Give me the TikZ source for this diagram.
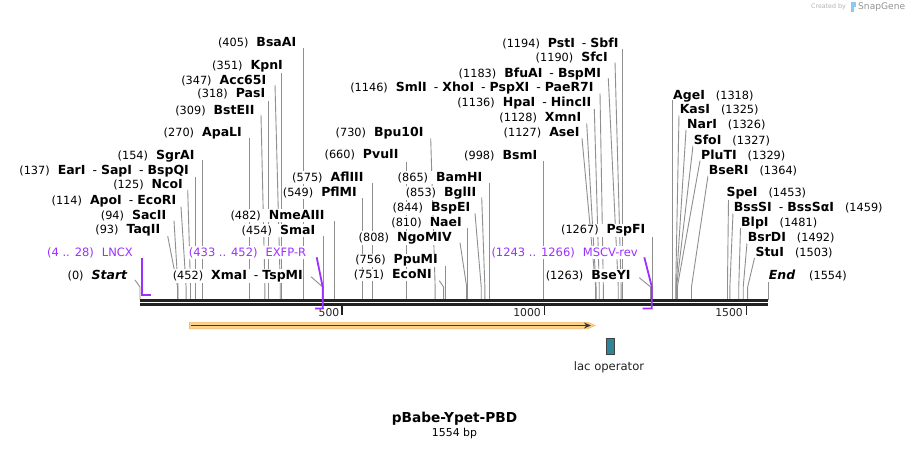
\documentclass[tikz,border=0pt]{standalone}
\usepackage{fontspec}
\setmainfont{DejaVu Sans}
\usetikzlibrary{arrows.meta}
\pgfdeclarelayer{bg}
\pgfdeclarelayer{paper}
\pgfsetlayers{paper,bg,main}
\definecolor{prim}{HTML}{9B30FF}
\definecolor{sitegray}{HTML}{8F8F8F}
\definecolor{seqdark}{HTML}{222222}
\definecolor{orfband}{HTML}{FAD28C}
\definecolor{orfedge}{HTML}{F3BC63}
\definecolor{lacfill}{HTML}{2F8498}
\definecolor{logoblue}{HTML}{8CC8F0}
\newcommand\numf{\fontsize{11.3}{13}\selectfont\mdseries\upshape}
\newcommand\namef{\fontsize{12.5}{14}\selectfont\bfseries}
\newcommand\hy{\hspace{7pt}{\mdseries-}\hspace{4pt}}
\newcommand\labL[2]{{\numf #1}\hspace{8pt}{\namef #2}}
\newcommand\labR[2]{{\namef #1}\hspace{11pt}{\numf #2}}
\def\vmark{v}
% #1 anchor, #2 id, #3 label x, #4 label centre y, #5 text, #6 start x (v = vertical), #7 start y, #8 bp
\newcommand\site[8]{%
  \node[lab, anchor=#1] (#2) at (#3,#4+4.5) {#5};
  \pgfmathsetmacro\sitex{140+#8*0.4043}%
  \def\startx{#6}\ifx\startx\vmark\let\startx\sitex\fi
  \coordinate (#2a) at (\startx,#7);
  \coordinate (#2b) at (\sitex,287);
  \coordinate (#2s) at (\sitex,299.5);
  \begin{pgfonlayer}{bg}\draw[siteline] (#2a) -- (#2b) -- (#2s);\end{pgfonlayer}%
}
\tikzset{
  lab/.style={fill=white, inner xsep=0.5pt, inner ysep=1pt, outer sep=0pt},
  siteline/.style={draw=sitegray, line width=0.9pt},
  primline/.style={draw=prim, line width=1.8pt},
  primlab/.style={lab, text=prim, font=\fontsize{11.5}{13}\selectfont},
  seqline/.style={draw=seqdark, line width=2.7pt},
  tickmark/.style={draw=seqdark, line width=1.6pt},
  ticklab/.style={font=\fontsize{10.8}{12}\selectfont, inner sep=0pt, text=seqdark, anchor=east},
}
\begin{document}
\begin{tikzpicture}[x=1pt,y=-1pt]
\useasboundingbox (0,0) rectangle (909,449);
\begin{pgfonlayer}{paper}\fill[white] (0,0) rectangle (909,449);\end{pgfonlayer}

% sequence
\coordinate (seqA1) at (140,300.6); \coordinate (seqB1) at (768.3,300.6);
\coordinate (seqA2) at (140,304.7); \coordinate (seqB2) at (768.3,304.7);
\draw[seqline] (seqA1) -- (seqB1);
\draw[seqline] (seqA2) -- (seqB2);

% ticks
\coordinate (k500a) at (342.2,306); \coordinate (k500b) at (342.2,314.5);
\coordinate (k1000a) at (544.3,306); \coordinate (k1000b) at (544.3,314.5);
\coordinate (k1500a) at (746.5,306); \coordinate (k1500b) at (746.5,314.5);
\draw[tickmark] (k500a) -- (k500b);
\draw[tickmark] (k1000a) -- (k1000b);
\draw[tickmark] (k1500a) -- (k1500b);
\node[ticklab] (t500) at (339.5,313) {500};
\node[ticklab] (t1000) at (541,313) {1000};
\node[ticklab] (t1500) at (743,313) {1500};

% left-side enzyme labels
\site{base east}{sStart}{127.7}{275}{\labL{(0)}{\itshape Start}}{135}{280}{0}
\site{base east}{sTaqII}{160.7}{229.3}{\labL{(93)}{TaqII}}{167.7}{236}{93}
\site{base east}{sSacII}{166.7}{214.7}{\labL{(94)}{SacII}}{174}{220.7}{94}
\site{base east}{sApoI}{176.7}{200}{\labL{(114)}{ApoI\hy EcoRI}}{181}{206.7}{114}
\site{base east}{sNcoI}{183.3}{184.3}{\labL{(125)}{NcoI}}{187.7}{190}{125}
\site{base east}{sEarI}{189.3}{170}{\labL{(137)}{EarI\hy SapI\hy BspQI}}{v}{176.7}{137}
\site{base east}{sSgrAI}{195}{155}{\labL{(154)}{SgrAI}}{v}{160}{154}
\site{base east}{sApaLI}{242.3}{131.7}{\labL{(270)}{ApaLI}}{v}{137.7}{270}
\site{base east}{sBstEII}{255}{110}{\labL{(309)}{BstEII}}{261}{115}{309}
\site{base east}{sPasI}{265.7}{93.3}{\labL{(318)}{PasI}}{v}{100.7}{318}
\site{base east}{sAcc}{266.7}{80}{\labL{(347)}{Acc65I}}{275}{85}{347}
\site{base east}{sKpnI}{283.3}{65}{\labL{(351)}{KpnI}}{v}{71.7}{351}
\site{base east}{sBsaAI}{296.7}{42.3}{\labL{(405)}{BsaAI}}{v}{48.3}{405}
\site{base east}{sXmaI}{303.3}{275}{\labL{(452)}{XmaI\hy TspMI}}{311}{276.7}{452}
\site{base east}{sSmaI}{315.7}{230}{\labL{(454)}{SmaI}}{v}{236}{454}
\site{base east}{sNme}{325}{215}{\labL{(482)}{NmeAIII}}{v}{221}{482}
\site{base east}{sPflMI}{357.3}{191.7}{\labL{(549)}{PflMI}}{v}{198.3}{549}
\site{base east}{sAflIII}{364}{176.7}{\labL{(575)}{AflIII}}{v}{182.7}{575}
\site{base east}{sPvuII}{399}{154.3}{\labL{(660)}{PvuII}}{v}{161.7}{660}
\site{base east}{sBpu}{424}{132.3}{\labL{(730)}{Bpu10I}}{430.7}{138.3}{730}
\site{base east}{sEcoNI}{432.3}{274.3}{\labL{(751)}{EcoNI}}{439.3}{280.7}{751}
\site{base east}{sPpuMI}{438.3}{259.3}{\labL{(756)}{PpuMI}}{v}{265.7}{756}
\site{base east}{sNgo}{452.3}{236.7}{\labL{(808)}{NgoMIV}}{460}{242.7}{808}
\site{base east}{sNaeI}{462.3}{221.7}{\labL{(810)}{NaeI}}{v}{228.3}{810}
\site{base east}{sBspEI}{470.7}{207.3}{\labL{(844)}{BspEI}}{475}{213.3}{844}
\site{base east}{sBglII}{476.7}{191.7}{\labL{(853)}{BglII}}{481.7}{197.3}{853}
\site{base east}{sBamHI}{482.7}{176.7}{\labL{(865)}{BamHI}}{v}{182.7}{865}
\site{base east}{sBsmI}{537.7}{155}{\labL{(998)}{BsmI}}{v}{161}{998}
\site{base east}{sAseI}{580}{131.7}{\labL{(1127)}{AseI}}{582}{138.3}{1127}
\site{base east}{sXmnI}{581.7}{117.3}{\labL{(1128)}{XmnI}}{586.7}{123.3}{1128}
\site{base east}{sHpaI}{591.7}{102.3}{\labL{(1136)}{HpaI\hy HincII}}{594.3}{109}{1136}
\site{base east}{sSmlI}{594}{87}{\labL{(1146)}{SmlI\hy XhoI\hy PspXI\hy PaeR7I}}{600}{93.3}{1146}
\site{base east}{sBfuAI}{601.5}{72.7}{\labL{(1183)}{BfuAI\hy BspMI}}{608.3}{78.3}{1183}
\site{base east}{sSfcI}{608.3}{56.7}{\labL{(1190)}{SfcI}}{615}{62.3}{1190}
\site{base east}{sPstI}{619}{43.3}{\labL{(1194)}{PstI\hy SbfI}}{v}{49.3}{1194}
\site{base east}{sBseYI}{631}{275}{\labL{(1263)}{BseYI}}{639.3}{277.7}{1263}
\site{base east}{sPspFI}{645.7}{229.3}{\labL{(1267)}{PspFI}}{v}{236.7}{1267}

% right-side enzyme labels
\site{base west}{sAgeI}{672.7}{95}{\labR{AgeI}{(1318)}}{v}{100}{1318}
\site{base west}{sKasI}{679.3}{109.3}{\labR{KasI}{(1325)}}{679}{115}{1325}
\site{base west}{sNarI}{686.7}{124.3}{\labR{NarI}{(1326)}}{686}{130}{1326}
\site{base west}{sSfoI}{693.3}{140}{\labR{SfoI}{(1327)}}{693}{145.7}{1327}
\site{base west}{sPluTI}{700.7}{155}{\labR{PluTI}{(1329)}}{700}{160.7}{1329}
\site{base west}{sBseRI}{708.3}{170}{\labR{BseRI}{(1364)}}{708}{175.7}{1364}
\site{base west}{sSpeI}{726}{192.3}{\labR{SpeI}{(1453)}}{728.5}{198}{1453}
\site{base west}{sBssSI}{733.3}{207.3}{\labR{BssSI\hy BssSαI}{(1459)}}{733}{213}{1459}
\site{base west}{sBlpI}{740.7}{222.3}{\labR{BlpI}{(1481)}}{740.5}{228}{1481}
\site{base west}{sBsrDI}{747.3}{237.3}{\labR{BsrDI}{(1492)}}{747}{243}{1492}
\site{base west}{sStuI}{755}{252.3}{\labR{StuI}{(1503)}}{754.5}{258}{1503}
\site{base west}{sEnd}{768.3}{275}{{\namef\itshape End}\hspace{14pt}{\numf (1554)}}{v}{282}{1554}

% primers
\node[primlab, anchor=base east] (pLNCX) at (133.3,256.2) {(4 .. 28)\hspace{8pt}LNCX};
\node[primlab, anchor=base east] (pEXFP) at (306.7,256.2) {(433 .. 452)\hspace{8pt}EXFP-R};
\node[primlab, anchor=base east] (pMSCV) at (638.3,256.2) {(1243 .. 1266)\hspace{8pt}MSCV-rev};
\coordinate (pLNCXa) at (141.6,258); \coordinate (pLNCXb) at (141.6,295.3); \coordinate (pLNCXc) at (151.3,295.3);
\coordinate (pEXFPa) at (316.7,257.3); \coordinate (pEXFPb) at (322.7,287); \coordinate (pEXFPc) at (322.7,308.5); \coordinate (pEXFPd) at (315.1,308.5);
\coordinate (pMSCVa) at (644.3,257.3); \coordinate (pMSCVb) at (651.8,286.7); \coordinate (pMSCVc) at (651.8,308.5); \coordinate (pMSCVd) at (642.5,308.5);
\draw[primline] (pLNCXa) -- (pLNCXb) -- (pLNCXc);
\draw[primline] (pEXFPa) -- (pEXFPb) -- (pEXFPc) -- (pEXFPd);
\draw[primline] (pMSCVa) -- (pMSCVb) -- (pMSCVc) -- (pMSCVd);

% ORF feature arrow
\coordinate (orfA) at (191,325.5); \coordinate (orfB) at (591,325.5);
\fill[orfband, draw=orfedge, line width=0.6pt] (189.5,322.3) -- (588,322.3) -- (595,325.5) -- (588,328.7) -- (189.5,328.7) -- cycle;
\draw[draw=seqdark!90, line width=1.5pt, -{Stealth[length=7pt,width=6pt]}] (orfA) -- (orfB);

% lac operator
\node[draw=seqdark!85, fill=lacfill, minimum width=7.5pt, minimum height=16pt, inner sep=0pt, line width=0.8pt] (lacbox) at (610.5,346) {};
\node[font=\fontsize{11.6}{13}\selectfont, text=seqdark, inner sep=0pt] (lactext) at (609,367.5) {lac operator};

% title
\node[font=\fontsize{13.7}{15}\selectfont\bfseries, inner sep=0pt] (title) at (454.5,418.5) {pBabe-Ypet-PBD};
\node[font=\fontsize{10.9}{12}\selectfont, inner sep=0pt] (len) at (454.5,433.5) {1554 bp};

% credit
\node[font=\fontsize{6.3}{7}\selectfont, text=black!30, anchor=east, inner sep=0pt] (cr1) at (846,7) {Created by};
\fill[logoblue] (850.5,2.5) rectangle (853.5,12);
\fill[logoblue] (853.5,2.5) rectangle (856,7);
\node[font=\fontsize{9.1}{10}\selectfont, text=black!42, anchor=west, inner sep=0pt] (cr2) at (858,7) {SnapGene};
\end{tikzpicture}
\end{document}
